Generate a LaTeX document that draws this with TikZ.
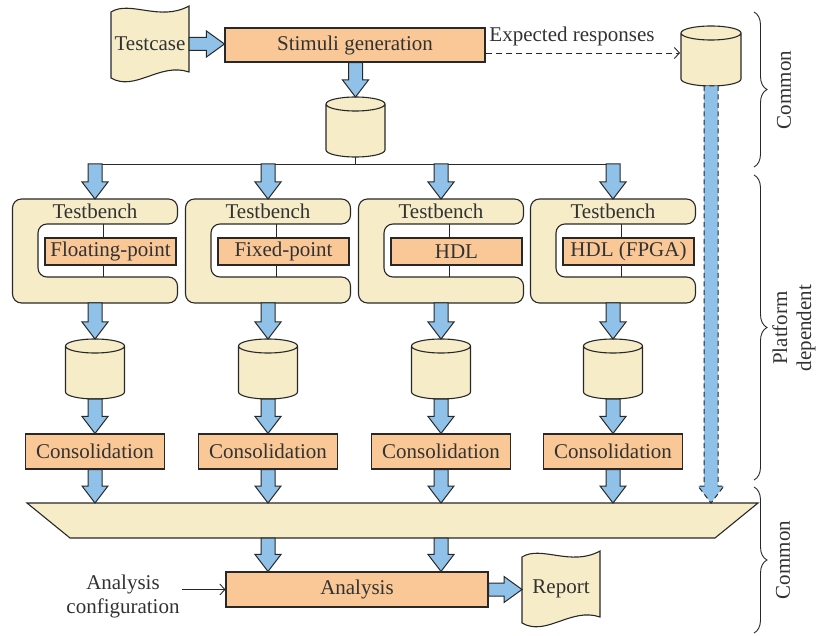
\documentclass[tikz,border=0pt]{standalone}
\usepackage{fontspec}
\setmainfont{Liberation Serif}
\usetikzlibrary{calc,arrows.meta,decorations.pathreplacing}
\definecolor{orng}{RGB}{249,200,150}
\definecolor{beig}{RGB}{246,236,200}
\definecolor{blu}{RGB}{143,193,233}
\definecolor{edge}{RGB}{40,40,40}
\definecolor{txt}{RGB}{50,50,50}
\newcommand\bdown[3][]{\path[blockarrow,#1] let \p1=(#2),\p2=(#3) in
  (\x1-7pt,\y1) -- (\x1-7pt,\y2+17pt) -- (\x1-13pt,\y2+17pt) -- (\x1,\y2)
  -- (\x1+13pt,\y2+17pt) -- (\x1+7pt,\y2+17pt) -- (\x1+7pt,\y1) -- cycle;}
\newcommand\bright[2]{\path[blockarrow] let \p1=(#1),\p2=(#2) in
  (\x1,\y1+6.5pt) -- (\x2-18pt,\y1+6.5pt) -- (\x2-18pt,\y1+13pt) -- (\x2,\y1)
  -- (\x2-18pt,\y1-13pt) -- (\x2-18pt,\y1-6.5pt) -- (\x1,\y1-6.5pt) -- cycle;}
\newcommand\drawcyl[1]{\path[shapestyle] let \p1=(#1.north west),\p2=(#1.south east),\n1={(\x2-\x1)/2} in
  (\x1,\y1-7pt) -- (\x1,\y2+7pt) arc[start angle=180,end angle=360,x radius=\n1,y radius=7pt]
  -- (\x2,\y1-7pt) arc[start angle=0,end angle=180,x radius=\n1,y radius=7pt] -- cycle
  (\x1,\y1-7pt) arc[start angle=180,end angle=360,x radius=\n1,y radius=7pt];}
\begin{document}
\begin{tikzpicture}[x=1pt,y=-1pt,
  font=\fontsize{21}{24}\selectfont,
  every node/.style={text=txt},
  box/.style={draw=edge,line width=1.1pt,fill=orng,inner sep=0pt,minimum height=35pt},
  shapestyle/.style={draw=edge,line width=1.1pt,fill=beig},
  blockarrow/.style={draw=edge,line width=1pt,fill=blu,line join=miter},
  ghost/.style={inner sep=0pt,outer sep=0pt},
  thinline/.style={draw=edge,line width=0.9pt},
  bracestyle/.style={draw=edge,line width=0.9pt,decorate,decoration={brace,amplitude=13pt}}]
\useasboundingbox (0,0) rectangle (817,636);

% Testcase document
\path[shapestyle] (111,12) .. controls (130,0) and (160,22) .. (189,6) -- (189,72)
  .. controls (160,62) and (135,92) .. (111,78) -- cycle;
\node[ghost,minimum width=78pt,minimum height=60pt] (tc) at (150,44) {Testcase};

% Stimuli generation
\node[box,minimum width=260pt,minimum height=34pt] (stim) at (355,45) {Stimuli generation};
\bright{tc.east}{stim.west}

% expected responses
\node[ghost,minimum width=60pt,minimum height=60pt] (cyE) at (711,56) {};
\drawcyl{cyE}
\draw[thinline,dash pattern=on 6pt off 4pt,-{Straight Barb[length=5pt,width=11pt]}]
  ($(stim.east)+(0,8)$) -- ($(cyE.west)+(-1,-3)$);
\node (exp) at (572,36) {Expected responses};

% top cylinder
\node[ghost,minimum width=59pt,minimum height=60pt] (cy0) at (355.5,127) {};
\drawcyl{cy0}
\bdown{stim.south -| cy0.north}{cy0.north}
\coordinate (bus) at (355.5,164);

% merge trapezoid
\node[ghost,minimum width=731pt,minimum height=35pt] (mrg) at (392.5,520.5) {};
\path[shapestyle] (27,503) -- (758,503) -- (715,538) -- (70,538) -- cycle;

\foreach \c/\i/\lab in {95/1/Floating-point,268/2/Fixed-point,441/3/HDL,613/4/{HDL (FPGA)}}{
  \node[ghost,minimum width=165pt,minimum height=104pt] (tb\i) at (\c,251) {};
  \path[shapestyle,rounded corners=9pt] (\c,199) -- ({\c+82.5},199) -- ({\c+82.5},224)
    -- ({\c-57},224) -- ({\c-57},277) -- ({\c+82.5},277) -- ({\c+82.5},303)
    -- ({\c-82.5},303) -- ({\c-82.5},199) -- cycle;
  \node (tbl\i) at (\c,211) {Testbench};
  \node[box,minimum width=131pt,minimum height=27pt] (ib\i) at ({\c+15.5},251.5) {\lab};
  \draw[thinline] ({\c+8},224) -- ({\c+8},238) ({\c+8},265) -- ({\c+8},277);
  \node[ghost,minimum width=59pt,minimum height=60pt] (cy\i) at (\c,369) {};
  \drawcyl{cy\i}
  \node[box,minimum width=139pt] (co\i) at (\c,451.5) {Consolidation};
}
\draw[thinline] (cy0.south) -- (bus);
\draw[thinline] (tb1.north |- bus) -- (tb4.north |- bus);
\foreach \i in {1,2,3,4}{
  \bdown{tb\i.north |- bus}{tb\i.north}
  \bdown{tb\i.south}{cy\i.north}
  \bdown{cy\i.south}{co\i.north}
  \bdown{co\i.south}{co\i.south |- mrg.north}
}
\bdown[dash pattern=on 5pt off 3.5pt]{cyE.south}{cyE.south |- mrg.north}

% Analysis
\node[box,minimum width=262pt] (ana) at (357,589.5) {Analysis};
\bdown{co2.south |- mrg.south}{co2.south |- ana.north}
\bdown{co3.south |- mrg.south}{co3.south |- ana.north}
\node[align=center,inner sep=2pt] (acfg) at (123,596) {Analysis\\configuration};
\draw[thinline,-{Straight Barb[length=5pt,width=11pt]}] (acfg.east |- ana.west) -- (ana.west);

% Report document
\path[shapestyle] (522,557) .. controls (541,545) and (571,567) .. (600,551) -- (600,617)
  .. controls (571,607) and (546,637) .. (522,623) -- cycle;
\node[ghost,minimum width=78pt,minimum height=60pt] (rep) at (561,589) {Report};
\bright{ana.east}{rep.west}

% braces
\draw[bracestyle] (754,12) -- (754,167);
\draw[bracestyle] (754,175) -- (754,480);
\draw[bracestyle] (754,487) -- (754,633);
\node[rotate=90] (lc1) at (784,90) {Common};
\node[rotate=90,align=center] (lpd) at (794,328) {Platform\\dependent};
\node[rotate=90] (lc2) at (783,560) {Common};
\end{tikzpicture}
\end{document}
